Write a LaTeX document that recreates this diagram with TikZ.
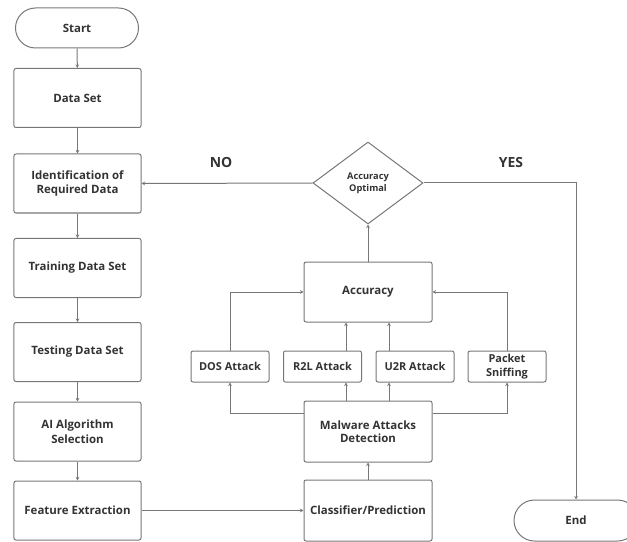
\documentclass[tikz,border=0pt]{standalone}
\usepackage{fontspec}
\setmainfont{Open Sans}
\usetikzlibrary{shapes.geometric,shapes.misc,arrows.meta}
\definecolor{txt}{HTML}{333333}
\definecolor{ln}{HTML}{777777}
\tikzset{
  base/.style={draw=ln,line width=1bp,text=txt,font=\bfseries\fontsize{11.5}{15}\selectfont,align=center,inner sep=1bp},
  box/.style={base,rectangle,rounded corners=2bp,minimum width=127bp,minimum height=59bp},
  sbox/.style={base,rectangle,rounded corners=2bp,minimum width=78bp,minimum height=31bp,font=\bfseries\fontsize{11}{13.5}\selectfont},
  term/.style={base,rounded rectangle,minimum width=125bp,minimum height=40bp},
  dec/.style={base,diamond,minimum width=110bp,minimum height=82bp,font=\bfseries\fontsize{9.3}{12}\selectfont},
  lab/.style={text=txt,font=\bfseries\fontsize{14}{16}\selectfont},
  arr/.style={draw=ln,line width=1bp,-{Stealth[length=3.5bp,width=3.5bp]}},
}
\begin{document}
\begin{tikzpicture}[x=1bp,y=-1bp]
\useasboundingbox (0,0) rectangle (627,542);
\node[term] (start) at (77,28) {Start};
\node[box] (ds) at (77.5,98) {Data Set};
\node[box] (ident) at (77.5,183.5) {Identification of\\Required Data};
\node[box] (train) at (77.5,268) {Training Data Set};
\node[box] (test) at (77.5,352) {Testing Data Set};
\node[box] (ai) at (77.5,431.5) {AI Algorithm\\Selection};
\node[box] (feat) at (77.5,510.5) {Feature Extraction};
\node[dec] (opt) at (368,183) {Accuracy\\Optimal};
\node[box,minimum width=128bp,minimum height=60bp] (acc) at (368,292) {Accuracy};
\node[sbox] (dos) at (230,366.5) {DOS Attack};
\node[sbox] (r2l) at (322.5,366.5) {R2L Attack};
\node[sbox] (u2r) at (415,366.5) {U2R Attack};
\node[sbox] (pkt) at (507,366.5) {Packet\\Sniffing};
\node[box,minimum width=128bp,minimum height=61bp,font=\bfseries\fontsize{11.5}{13.5}\selectfont] (mal) at (368,431.5) {Malware Attacks\\Detection};
\node[box,minimum width=128bp,minimum height=61bp] (cls) at (368,510.5) {Classifier/Prediction};
\node[term,minimum width=126bp,minimum height=41bp] (end) at (576,520.5) {End};
\node[lab] (no) at (221,163) {NO};
\node[lab] (yes) at (511,163) {YES};
\coordinate (xa) at (346,0);
\coordinate (xb) at (389,0);
\coordinate (ya) at (0,413);
\coordinate (yes corner) at (576,183);
% left column
\draw[arr] (start) -- (ds);
\draw[arr] (ds) -- (ident);
\draw[arr] (ident) -- (train);
\draw[arr] (train) -- (test);
\draw[arr] (test) -- (ai);
\draw[arr] (ai) -- (feat);
\draw[arr] (feat) -- (cls);
\draw[arr] (cls) -- (mal);
% malware to attacks
\draw[arr] (mal.west |- ya) -| (dos.south);
\draw[arr] (mal.east |- ya) -| (pkt.south);
\draw[arr] (mal.north -| xa) -- (r2l.south -| xa);
\draw[arr] (mal.north -| xb) -- (u2r.south -| xb);
% attacks to accuracy
\draw[arr] (dos.north) |- (acc.west);
\draw[arr] (pkt.north) |- (acc.east);
\draw[arr] (r2l.north -| xa) -- (acc.south -| xa);
\draw[arr] (u2r.north -| xb) -- (acc.south -| xb);
% decision
\draw[arr] (acc) -- (opt);
\draw[arr] (opt.west) -- (ident.east);
\draw[arr] (opt.east) -- (yes corner) -- (end.north);
\end{tikzpicture}
\end{document}
